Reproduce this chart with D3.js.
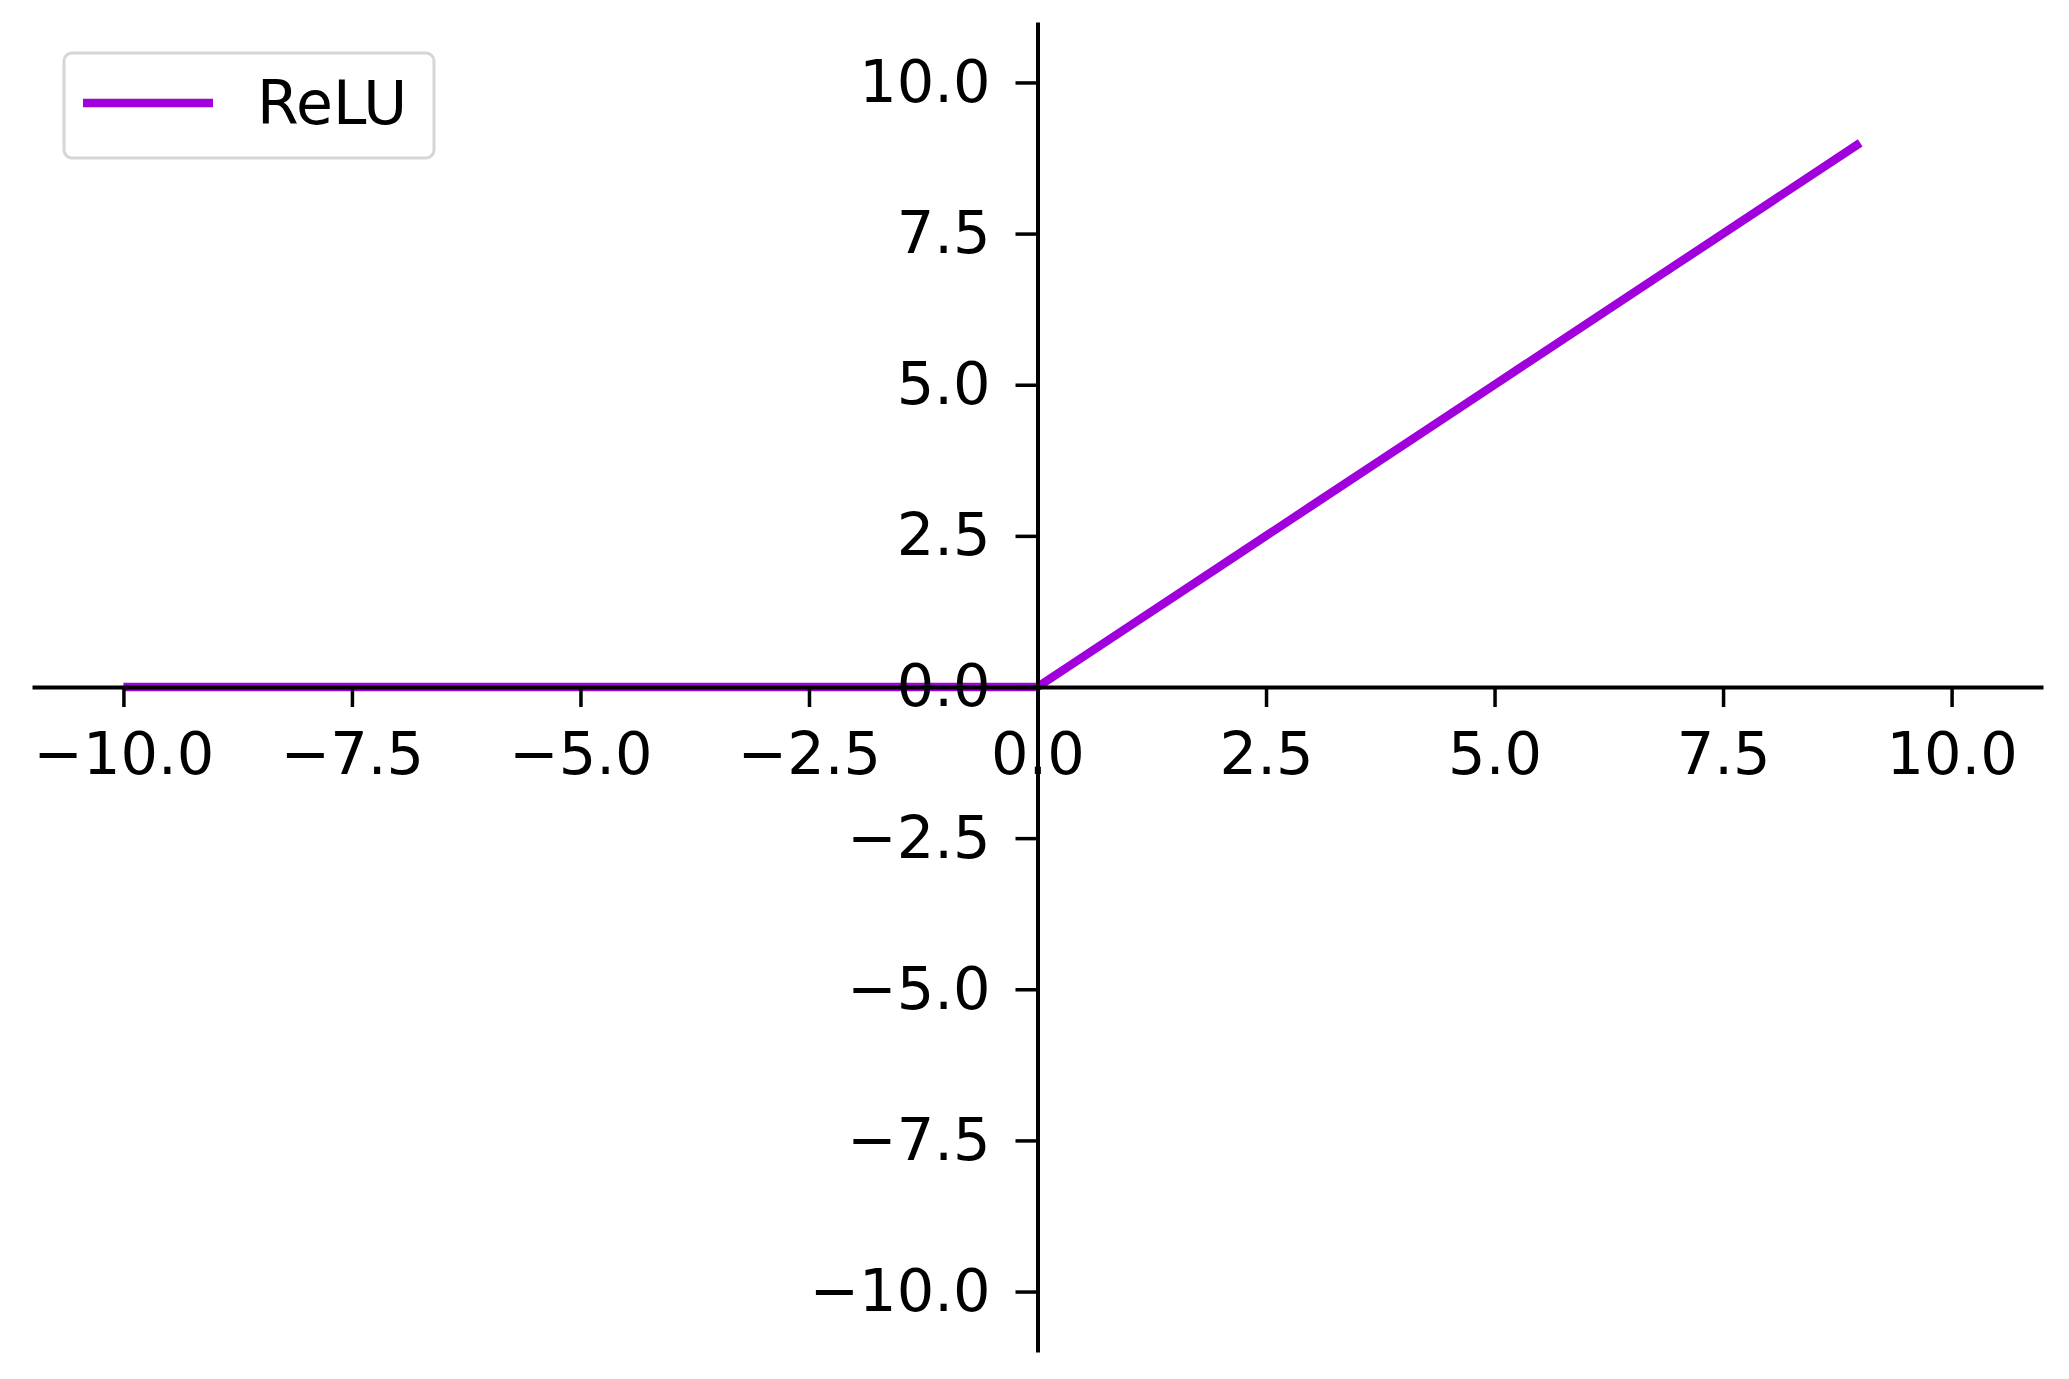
<!DOCTYPE html>
<html><head><meta charset="utf-8">
<script src="https://cdn.jsdelivr.net/npm/d3@7"></script>
<style>body{margin:0;background:#fff}svg{display:block}</style>
</head><body>
<svg id="c" width="2069" height="1379"></svg>
<script>
const xValues = [-10,-9,-8,-7,-6,-5,-4,-3,-2,-1,0,1,2,3,4,5,6,7,8,9];
const yValues = [0,0,0,0,0,0,0,0,0,0,0,1,2,3,4,5,6,7,8,9];
const tickValues = [-10,-7.5,-5,-2.5,0,2.5,5,7.5,10];
const seriesName = "ReLU";

const svg = d3.select("#c");
const x = d3.scaleLinear().domain([-11,11]).range([32,2043]);
const y = d3.scaleLinear().domain([-11,11]).range([1352,22]);
const fmt = d3.format(".1f");
const font = "DejaVu Sans";
const lineColor = "#a000dc";

// line (drawn below the spines)
const line = d3.line().x((d,i)=>x(xValues[i])).y(d=>y(d));
svg.append("path").datum(yValues).attr("d",line)
  .attr("fill","none").attr("stroke",lineColor).attr("stroke-width",8.5).attr("stroke-linejoin","round");

// x axis
const gx = svg.append("g").attr("transform",`translate(0,${y(0)})`)
  .call(d3.axisBottom(x).tickValues(tickValues).tickFormat(fmt).tickSize(20).tickPadding(25).tickSizeOuter(0));
gx.select(".domain").attr("stroke","#000").attr("stroke-width",4);
gx.selectAll(".tick line").attr("stroke","#000").attr("stroke-width",3.5);
gx.selectAll(".tick text").attr("font-family",font).attr("font-size",59).attr("fill","#000");

// y axis
const gy = svg.append("g").attr("transform",`translate(${x(0)},0)`)
  .call(d3.axisLeft(y).tickValues(tickValues).tickFormat(fmt).tickSize(22).tickPadding(25).tickSizeOuter(0));
gy.select(".domain").attr("stroke","#000").attr("stroke-width",4);
gy.selectAll(".tick line").attr("stroke","#000").attr("stroke-width",3.5);
gy.selectAll(".tick text").attr("font-family",font).attr("font-size",59).attr("fill","#000");

// legend
const lg = svg.append("g");
lg.append("rect").attr("x",64).attr("y",53).attr("width",370).attr("height",105).attr("rx",8)
  .attr("fill","#fff").attr("stroke","#d6d6d6").attr("stroke-width",3);
lg.append("line").attr("x1",83).attr("x2",213).attr("y1",103).attr("y2",103)
  .attr("stroke",lineColor).attr("stroke-width",8.5);
lg.append("text").attr("x",257).attr("y",124).attr("font-family",font).attr("font-size",60)
  .attr("fill","#000").text(seriesName);
</script>
</body></html>
